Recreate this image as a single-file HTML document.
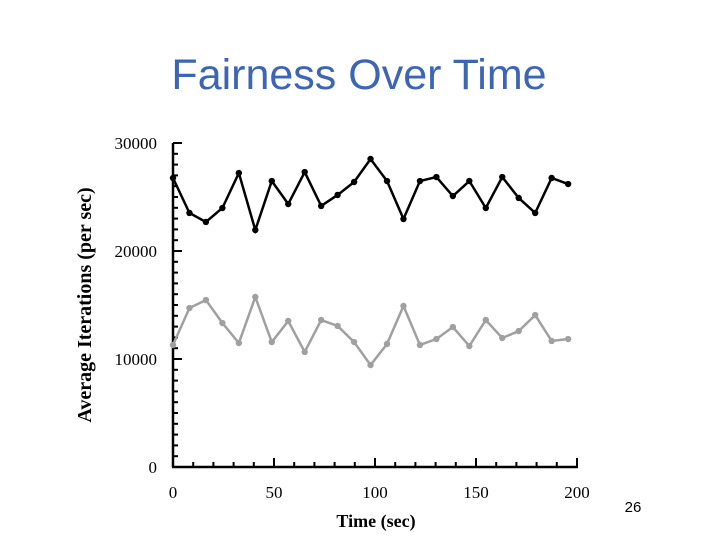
<!DOCTYPE html>
<html><head><meta charset="utf-8"><style>
body{margin:0;background:#fff;width:720px;height:540px;overflow:hidden}
</style></head><body>
<svg width="720" height="540">
<text x="359" y="89" text-anchor="middle" font-family="Liberation Sans, sans-serif" font-size="43" fill="#3c66b4">Fairness Over Time</text>
<text x="633" y="512" text-anchor="middle" font-family="Liberation Sans, sans-serif" font-size="15" fill="#000">26</text>
<g id="axes"></g>
<g id="series"></g>
<text x="376" y="527" text-anchor="middle" font-family="Liberation Serif, serif" font-weight="bold" font-size="18">Time (sec)</text>
<text transform="translate(91,305) rotate(-90)" text-anchor="middle" font-family="Liberation Serif, serif" font-weight="bold" font-size="20">Average Iterations (per sec)</text>
</svg>
<script>
const xVals=[0,8.15,16.3,24.45,32.6,40.75,48.9,57.05,65.2,73.35,81.5,89.65,97.8,105.95,114.1,122.25,130.4,138.55,146.7,154.85,163,171.15,179.3,187.45,195.6];
const blackVals=[26760,23520,22690,23980,27220,21940,26480,24350,27310,24170,25190,26390,28520,26480,22960,26480,26850,25090,26480,23980,26850,24910,23520,26760,26200];
const grayVals=[11300,14720,15460,13330,11480,15740,11570,13520,10650,13610,13060,11570,9440,11390,14910,11300,11850,12960,11200,13610,11940,12590,14070,11670,11850];
const xTicks=[0,50,100,150,200];
const yTicks=[0,10000,20000,30000];
const NS="http://www.w3.org/2000/svg";
const X=v=>173+v*2.02, Y=v=>467-v*0.0108;
function mk(t,a,p){const e=document.createElementNS(NS,t);for(const k in a)e.setAttribute(k,a[k]);p.appendChild(e);return e;}
const ax=document.getElementById('axes');
let l=mk('line',{x1:173,y1:Y(30000),x2:173,y2:467,stroke:'#000','stroke-width':2.5},ax);


l=mk('line',{x1:172,y1:467,x2:578,y2:467,stroke:'#000','stroke-width':2.5},ax);


for(let v=0;v<=30000;v+=1000){const maj=v%10000===0;mk('line',{x1:173,y1:Y(v),x2:173+(maj?9:5),y2:Y(v),stroke:'#000','stroke-width':2},ax);}
for(let v=0;v<=200;v+=10){const maj=v%50===0;mk('line',{x1:X(v),y1:467,x2:X(v),y2:467-(maj?9:5),stroke:'#000','stroke-width':2},ax);}
yTicks.forEach(v=>{const t=mk('text',{x:157,y:Y(v)+6,'text-anchor':'end','font-family':'Liberation Serif, serif','font-size':17},ax);t.textContent=v;

});
xTicks.forEach(v=>{const t=mk('text',{x:X(v),y:498,'text-anchor':'middle','font-family':'Liberation Serif, serif','font-size':17},ax);t.textContent=v;

});
const sg=document.getElementById('series');
function series(vals,col,name){
 const pl=mk('polyline',{points:vals.map((v,i)=>X(xVals[i])+','+Y(v)).join(' '),fill:'none',stroke:col,'stroke-width':2.5},sg);
 
 
 vals.forEach((v,i)=>{const c=mk('circle',{cx:X(xVals[i]),cy:Y(v),r:3.2,fill:col},sg);
 
 });
}
series(blackVals,'#000','high-series');
series(grayVals,'#a0a0a0','low-series');
</script>
</body></html>
